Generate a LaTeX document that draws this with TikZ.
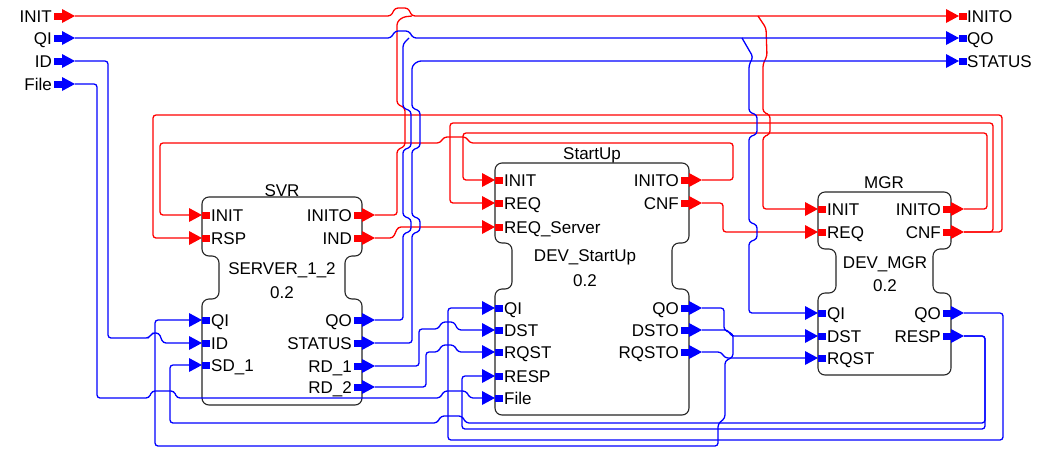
\documentclass[tikz,border=0pt]{standalone}
\usepackage{fontspec}
\setmainfont{Liberation Sans}
\newcommand\fbIn[3]{%
  \fill[#3] ({#1-13},{#2-7}) -- (#1,#2) -- ({#1-13},{#2+7}) -- cycle;
  \fill[#3] (#1,{#2-3.5}) rectangle ({#1+8},{#2+3.5});}
\newcommand\fbOut[3]{%
  \fill[#3] ({#1-8},{#2-3.5}) rectangle (#1,{#2+3.5});
  \fill[#3] (#1,{#2-7}) -- ({#1+13},#2) -- (#1,{#2+7}) -- cycle;}
\newcommand\fbShape[7]{%
  \draw[fb] ({(#1+#2)/2},#3) -- (#2,#3) -- (#2,#4) -- ({#2-#5},#4) -- ({#2-#5},#6) -- (#2,#6) -- (#2,#7)
   -- (#1,#7) -- (#1,#6) -- ({#1+#5},#6) -- ({#1+#5},#4) -- (#1,#4) -- (#1,#3) -- cycle;}
\begin{document}
\begin{tikzpicture}[x=1pt,y=-1pt,
  ev/.style={draw=red, line width=1.3pt, rounded corners=3pt},
  da/.style={draw=blue, line width=1.3pt, rounded corners=3pt},
  fb/.style={draw=black!85, line width=1.1pt, rounded corners=7pt},
  lbl/.style={font=\fontsize{17}{20}\selectfont, inner sep=0pt, text=black},
  inl/.style={lbl, anchor=base west},
  outl/.style={lbl, anchor=base east},
  ctl/.style={lbl, anchor=base}]
\useasboundingbox[fill=white] (0,0) rectangle (1038,448);

% ---------- blocks ----------
\fbShape{202}{362}{197}{256}{17}{299}{405}
\fbShape{495}{689}{163}{243}{17}{289}{415}
\fbShape{818}{951}{192}{249}{18}{293}{375}

\node[ctl] (svr-title) at (282,196) {SVR};
\node[ctl] (svr-type) at (282,274) {SERVER\_1\_2};
\node[ctl] (svr-ver) at (282,298) {0.2};
\node[ctl] (su-title) at (592,159) {StartUp};
\node[ctl] (su-type) at (585,261) {DEV\_StartUp};
\node[ctl] (su-ver) at (585,286) {0.2};
\node[ctl] (mgr-title) at (884,188) {MGR};
\node[ctl] (mgr-type) at (885,268) {DEV\_MGR};
\node[ctl] (mgr-ver) at (885,291) {0.2};

% ---------- port coordinates ----------
\coordinate (in-init) at (75,16);  \coordinate (in-qi) at (75,38);
\coordinate (in-id) at (75,61);    \coordinate (in-file) at (75,84);
\coordinate (out-inito) at (946,16); \coordinate (out-qo) at (946,38);
\coordinate (out-status) at (946,61);
\coordinate (svr-init) at (189,215); \coordinate (svr-rsp) at (189,238);
\coordinate (svr-qi) at (189,320); \coordinate (svr-id) at (189,343);
\coordinate (svr-sd1) at (189,365);
\coordinate (svr-inito) at (375,215); \coordinate (svr-ind) at (375,238);
\coordinate (svr-qo) at (375,320); \coordinate (svr-status) at (375,343);
\coordinate (svr-rd1) at (375,366); \coordinate (svr-rd2) at (375,387);
\coordinate (su-init) at (482,180); \coordinate (su-req) at (482,203);
\coordinate (su-reqs) at (482,227);
\coordinate (su-qi) at (482,308); \coordinate (su-dst) at (482,330);
\coordinate (su-rqst) at (482,352); \coordinate (su-resp) at (482,376);
\coordinate (su-file) at (482,398);
\coordinate (su-inito) at (702,180); \coordinate (su-cnf) at (702,203);
\coordinate (su-qo) at (702,308); \coordinate (su-dsto) at (702,330);
\coordinate (su-rqsto) at (702,352);
\coordinate (mgr-init) at (805,209); \coordinate (mgr-req) at (805,232);
\coordinate (mgr-qi) at (805,313); \coordinate (mgr-dst) at (805,336);
\coordinate (mgr-rqst) at (805,358);
\coordinate (mgr-inito) at (964,209); \coordinate (mgr-cnf) at (964,232);
\coordinate (mgr-qo) at (964,313); \coordinate (mgr-resp) at (964,336);

% ---------- event connections ----------
\draw[ev] (in-init) -- (391,16) -- (395,8) -- (408,8) -- (412,16) -- (out-inito);
\draw[ev] (svr-inito) -- (397,215) -- (397,150) -- (405,146) -- (405,108) -- (397,104) -- (397,22) -- (403,17) -- (412,16);
\draw[ev] (758,16) -- (766,28) -- (767,56) -- (763,64) -- (763,112) -- (770,115) -- (770,134) -- (763,137) -- (763,209) -- (mgr-init);
\draw[ev] (svr-ind) -- (393,238) -- (398,227) -- (su-reqs);
\draw[ev] (su-inito) -- (733,180) -- (733,143) -- (470,143) -- (466,137) -- (444,137) -- (440,143) -- (160,143) -- (160,215) -- (svr-init);
\draw[ev] (mgr-inito) -- (987,209) -- (987,133) -- (463,133) -- (463,180) -- (su-init);
\draw[ev] (mgr-cnf) -- (1002,232) -- (1002,115) -- (153,115) -- (153,238) -- (svr-rsp);
\draw[ev] (mgr-cnf) -- (993,232) -- (993,123) -- (450,123) -- (450,203) -- (su-req);
\draw[ev] (su-cnf) -- (723,203) -- (723,232) -- (mgr-req);

% ---------- data connections ----------
\draw[da] (in-qi) -- (391,38) -- (395,31) -- (409,31) -- (413,38) -- (out-qo);
\draw[da] (svr-qo) -- (403,320) -- (403,234) -- (411,231) -- (411,219) -- (403,216) -- (403,150) -- (411,147) -- (411,111) -- (403,108) -- (403,44) -- (409,38);
\draw[da] (svr-status) -- (412,343) -- (412,234) -- (420,231) -- (420,219) -- (412,216) -- (412,150) -- (420,147) -- (420,111) -- (412,108) -- (412,66) -- (418,61) -- (out-status);
\draw[da] (742,38) -- (753,57) -- (749,65) -- (749,112) -- (757,115) -- (757,134) -- (749,137) -- (749,222) -- (757,225) -- (757,239) -- (749,242) -- (749,313) -- (mgr-qi);
\draw[da] (in-id) -- (108,61) -- (108,338) -- (149,338) -- (152,333) -- (159,333) -- (163,343) -- (svr-id);
\draw[da] (in-file) -- (97,84) -- (97,398) -- (149,398) -- (152,391) -- (174,391) -- (177,398) -- (440,398) -- (444,391) -- (466,391) -- (470,398) -- (su-file);
\draw[da] (svr-rd1) -- (419,366) -- (419,329) -- (438,329) -- (442,322) -- (454,322) -- (458,330) -- (su-dst);
\draw[da] (svr-rd2) -- (426,387) -- (426,352) -- (438,352) -- (442,345) -- (454,345) -- (458,352) -- (su-rqst);
\draw[da] (mgr-resp) -- (985,336) -- (985,423) -- (466,423) -- (462,416) -- (441,416) -- (437,423) -- (170,423) -- (170,365) -- (svr-sd1);
\draw[da] (mgr-resp) -- (985,336) -- (985,429) -- (462,429) -- (462,376) -- (su-resp);
\draw[da] (mgr-qo) -- (1003,313) -- (1003,440) -- (448,440) -- (448,308) -- (su-qi);
\draw[da] (su-qo) -- (724,308) -- (724,330) -- (733,334) -- (733,357) -- (725,361) -- (725,418) -- (718,424) -- (718,446) -- (155,446) -- (155,320) -- (svr-qi);
\draw[da] (su-dsto) -- (728,330) -- (731,336) -- (mgr-dst);
\draw[da] (su-rqsto) -- (721,352) -- (725,358) -- (mgr-rqst);

% ---------- interface ports ----------
\fbOut{62}{16}{red} \fbOut{62}{38}{blue} \fbOut{62}{61}{blue} \fbOut{62}{84}{blue}
\node[outl] (l-init) at (52,22) {INIT};
\node[outl] (l-qi) at (52,44) {QI};
\node[outl] (l-id) at (52,67) {ID};
\node[outl] (l-file) at (52,90) {File};
\fbIn{959}{16}{red} \fbIn{959}{38}{blue} \fbIn{959}{61}{blue}
\node[inl] (l-inito) at (967,22) {INITO};
\node[inl] (l-qo) at (967,44) {QO};
\node[inl] (l-status) at (967,67) {STATUS};

% ---------- SVR ports ----------
\fbIn{202}{215}{red} \fbIn{202}{238}{red}
\fbIn{202}{320}{blue} \fbIn{202}{343}{blue} \fbIn{202}{365}{blue}
\fbOut{362}{215}{red} \fbOut{362}{238}{red}
\fbOut{362}{320}{blue} \fbOut{362}{343}{blue} \fbOut{362}{366}{blue} \fbOut{362}{387}{blue}
\node[inl] (t1) at (211,221) {INIT};
\node[inl] (t2) at (211,244) {RSP};
\node[inl] (t3) at (211,326) {QI};
\node[inl] (t4) at (211,349) {ID};
\node[inl] (t5) at (211,371) {SD\_1};
\node[outl] (t6) at (352,221) {INITO};
\node[outl] (t7) at (352,244) {IND};
\node[outl] (t8) at (352,326) {QO};
\node[outl] (t9) at (352,349) {STATUS};
\node[outl] (t10) at (352,372) {RD\_1};
\node[outl] (t11) at (352,393) {RD\_2};

% ---------- StartUp ports ----------
\fbIn{495}{180}{red} \fbIn{495}{203}{red} \fbIn{495}{227}{red}
\fbIn{495}{308}{blue} \fbIn{495}{330}{blue} \fbIn{495}{352}{blue} \fbIn{495}{376}{blue} \fbIn{495}{398}{blue}
\fbOut{689}{180}{red} \fbOut{689}{203}{red}
\fbOut{689}{308}{blue} \fbOut{689}{330}{blue} \fbOut{689}{352}{blue}
\node[inl] (s1) at (504,186) {INIT};
\node[inl] (s2) at (504,209) {REQ};
\node[inl] (s3) at (504,233) {REQ\_Server};
\node[inl] (s4) at (504,314) {QI};
\node[inl] (s5) at (504,336) {DST};
\node[inl] (s6) at (504,358) {RQST};
\node[inl] (s7) at (504,382) {RESP};
\node[inl] (s8) at (504,404) {File};
\node[outl] (s9) at (679,186) {INITO};
\node[outl] (s10) at (679,209) {CNF};
\node[outl] (s11) at (679,314) {QO};
\node[outl] (s12) at (679,336) {DSTO};
\node[outl] (s13) at (679,358) {RQSTO};

% ---------- MGR ports ----------
\fbIn{818}{209}{red} \fbIn{818}{232}{red}
\fbIn{818}{313}{blue} \fbIn{818}{336}{blue} \fbIn{818}{358}{blue}
\fbOut{951}{209}{red} \fbOut{951}{232}{red}
\fbOut{951}{313}{blue} \fbOut{951}{336}{blue}
\node[inl] (m1) at (827,215) {INIT};
\node[inl] (m2) at (827,238) {REQ};
\node[inl] (m3) at (827,319) {QI};
\node[inl] (m4) at (827,342) {DST};
\node[inl] (m5) at (827,364) {RQST};
\node[outl] (m6) at (941,215) {INITO};
\node[outl] (m7) at (941,238) {CNF};
\node[outl] (m8) at (941,319) {QO};
\node[outl] (m9) at (941,342) {RESP};
\end{tikzpicture}
\end{document}
